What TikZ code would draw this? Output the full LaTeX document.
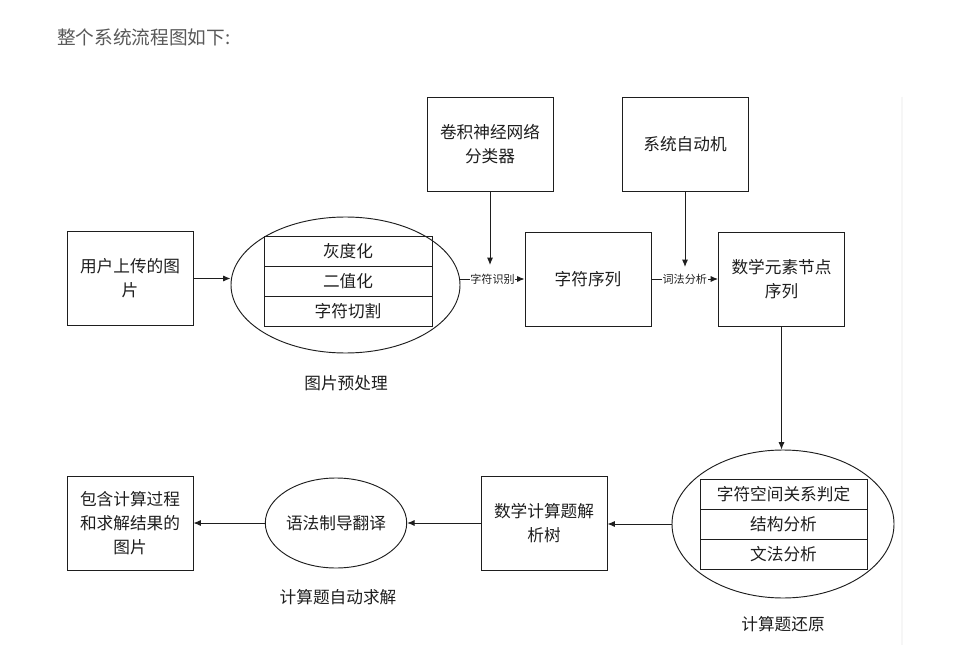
\documentclass[tikz,border=0pt]{standalone}
\usepackage{fontspec}
\newfontfamily\cjk{Noto Sans CJK SC}
\usetikzlibrary{shapes.geometric,arrows.meta}
\definecolor{titlegray}{HTML}{595959}
\definecolor{ink}{HTML}{1E1E1E}
\begin{document}
\begin{tikzpicture}[x=0.75pt,y=-0.75pt,
  txt/.style={font=\cjk\fontsize{12.5}{18}\selectfont, align=center, text=ink},
  box/.style={txt, draw=ink, line width=0.7pt, minimum width=94.5pt, minimum height=70.5pt, inner sep=0pt},
  ell/.style={draw=ink, ellipse, line width=0.7pt, inner sep=0pt},
  row/.style={txt, draw=ink, line width=0.7pt, inner sep=0pt, minimum height=22.5pt},
  ar/.style={-{Latex[length=5.5pt,width=4.5pt]}, draw=ink, line width=0.7pt},
  elab/.style={font=\cjk\fontsize{8.3}{10}\selectfont, text=ink, fill=white, inner sep=0.6pt},
  captext/.style={txt}
]
\useasboundingbox (0,0) rectangle (962,666);
\fill[white] (0,0) rectangle (962,666);
% title
\node[anchor=west, font=\cjk\fontsize{14}{16}\selectfont, text=titlegray, inner sep=0pt] (title) at (57,37) {整个系统流程图如下:};
% faint vertical rule
\draw[gray!7, line width=0.8pt] (902,97) -- (902,645);
% top row
\node[box] (user) at (130,278.5) {用户上传的图\\片};
\node[ell, minimum width=171.75pt, minimum height=102pt] (e1) at (345.5,285) {};
\node[row, minimum width=126pt] (r11) at (348,251) {灰度化};
\node[row, minimum width=126pt] (r12) at (348,281) {二值化};
\node[row, minimum width=126pt] (r13) at (348,311) {字符切割};
\node[captext] (cap1) at (346,383) {图片预处理};
\node[box] (seq) at (588,279) {字符序列};
\node[box] (cnn) at (490,144) {卷积神经网络\\分类器};
\node[box] (auto) at (685,144) {系统自动机};
\node[box] (node) at (781.5,279) {数学元素节点\\序列};
\coordinate (c1) at (490,265);
\coordinate (c2) at (685,267);
% bottom row
\node[ell, minimum width=166.5pt, minimum height=111pt] (e2) at (783,524) {};
\node[row, minimum width=125.25pt] (r21) at (783.5,494) {字符空间关系判定};
\node[row, minimum width=125.25pt] (r22) at (783.5,524) {结构分析};
\node[row, minimum width=125.25pt] (r23) at (783.5,554) {文法分析};
\node[captext] (cap2) at (783,624) {计算题还原};
\node[box] (tree) at (544,523) {数学计算题解\\析树};
\node[ell, txt, minimum width=101.25pt, minimum height=67.5pt] (e3) at (336,523) {语法制导翻译};
\node[captext] (cap3) at (338,597) {计算题自动求解};
\node[box] (result) at (130,523) {包含计算过程\\和求解结果的\\图片};
% connectors
\draw[ar] (user.east) -- (user.east -| e1.west);
\draw[ar] (e1.east |- seq.west) -- node[elab] {字符识别} (seq.west);
\draw[ar] (seq.east) -- node[elab] {词法分析} (node.west);
\draw[ar] (cnn.south) -- (c1);
\draw[ar] (auto.south) -- (c2);
\draw[ar] (node.south) -- (node.south |- e2.north);
\draw[ar] (e2.west) -- (e2.west -| tree.east);
\draw[ar] (tree.west) -- (e3.east);
\draw[ar] (e3.west) -- (result.east);
\end{tikzpicture}
\end{document}
